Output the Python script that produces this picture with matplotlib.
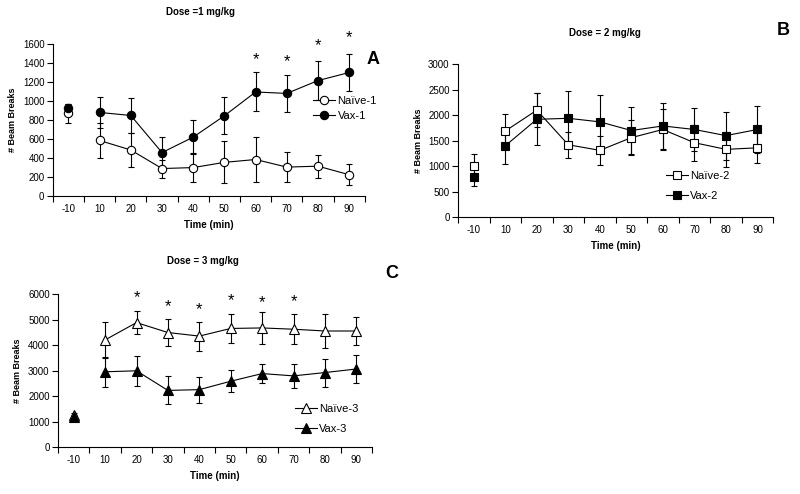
import numpy as np
import matplotlib
matplotlib.use("Agg")
import matplotlib.pyplot as plt

plt.rcParams['font.family'] = ['Liberation Sans', 'DejaVu Sans']

times = ['-10', '10', '20', '30', '40', '50', '60', '70', '80', '90']

# panel A, dose 1 mg/kg
naive1 = [870, 585, 485, 290, 300, 355, 385, 305, 315, 225]
naive1_err = [100, 185, 180, 95, 150, 220, 240, 160, 120, 112]
vax1 = [930, 880, 848, 458, 620, 845, 1095, 1080, 1215, 1300]
vax1_err = [35, 165, 180, 160, 180, 195, 205, 195, 205, 195]
stars1_x = [6, 7, 8, 9]
stars1_y = [1360, 1340, 1500, 1590]

# panel B, dose 2 mg/kg
naive2 = [1010, 1690, 2100, 1420, 1310, 1560, 1720, 1460, 1330, 1360]
naive2_err = [220, 330, 330, 255, 290, 340, 400, 350, 350, 300]
vax2 = [780, 1400, 1920, 1940, 1870, 1700, 1790, 1720, 1600, 1720]
vax2_err = [170, 350, 510, 530, 530, 460, 450, 430, 470, 460]

# panel C, dose 3 mg/kg
naive3 = [1250, 4200, 4880, 4490, 4350, 4650, 4670, 4620, 4550, 4550]
naive3_err = [100, 700, 450, 540, 570, 570, 640, 580, 650, 530]
vax3 = [1170, 2950, 2990, 2220, 2250, 2580, 2880, 2790, 2920, 3060]
vax3_err = [100, 600, 580, 550, 510, 430, 370, 460, 550, 550]
stars3_x = [2, 3, 4, 5, 6, 7]
stars3_y = [5550, 5200, 5080, 5430, 5380, 5410]

fig = plt.figure(figsize=(8, 4.94), dpi=100)


def panel(rect, naive, naive_err, vax, vax_err, marker, labels, ymax, ystep,
          leg_anchor, ms, spacing):
    ax = fig.add_axes(rect)
    x = np.arange(len(times))
    for vals, errs, face, lab in [(naive, naive_err, 'white', labels[0]),
                                  (vax, vax_err, 'black', labels[1])]:
        ax.errorbar(x, vals, yerr=errs, fmt='none', ecolor='black',
                    elinewidth=0.8, capsize=2.5, capthick=0.8, zorder=2)
        ax.plot(x[1:], vals[1:], color='black', lw=0.8, marker=marker,
                ms=ms, mfc=face, mec='black', mew=0.8, label=lab, zorder=3)
        ax.plot(x[:1], vals[:1], ls='none', marker=marker, ms=ms,
                mfc=face, mec='black', mew=0.8, zorder=3)
    ax.set_xlim(-0.5, len(times) - 0.5)
    ax.set_ylim(0, ymax)
    ax.set_xticks(x)
    ax.set_xticklabels(times)
    ax.set_xticks(np.arange(len(times) + 1) - 0.5, minor=True)
    ax.tick_params(axis='x', which='major', length=0, pad=6, labelsize=7)
    ax.tick_params(axis='x', which='minor', length=4, width=0.8,
                   direction='out')
    ax.set_yticks(np.arange(0, ymax + 1, ystep))
    ax.tick_params(axis='y', length=4, width=0.8, labelsize=7, pad=2)
    for s in ['top', 'right']:
        ax.spines[s].set_visible(False)
    for s in ['left', 'bottom']:
        ax.spines[s].set_linewidth(0.8)
    ax.set_ylabel('# Beam Breaks', fontsize=6.5, fontweight='bold',
                  labelpad=4)
    ax.set_xlabel('Time (min)', fontsize=7, fontweight='bold', labelpad=4)
    ax.legend(loc='upper left', bbox_to_anchor=leg_anchor, frameon=False,
              fontsize=8, handlelength=2.0, handletextpad=0.2,
              labelspacing=spacing, borderaxespad=0)
    return ax


axA = panel([0.066, 0.603, 0.39, 0.308], naive1, naive1_err, vax1, vax1_err,
            'o', ['Naïve-1', 'Vax-1'], 1600, 200, (0.82, 0.69), 6, 0.45)
for sx, sy in zip(stars1_x, stars1_y):
    axA.text(sx, sy, '*', ha='center', va='bottom', fontsize=12)

axB = panel([0.5725, 0.5607, 0.394, 0.309], naive2, naive2_err, vax2,
            vax2_err, 's', ['Naïve-2', 'Vax-2'], 3000, 500, (0.645, 0.33),
            5.5, 0.9)

axC = panel([0.0725, 0.0951, 0.3925, 0.3097], naive3, naive3_err, vax3,
            vax3_err, '^', ['Naïve-3', 'Vax-3'], 6000, 1000, (0.74, 0.31),
            6.5, 0.9)
for sx, sy in zip(stars3_x, stars3_y):
    axC.text(sx, sy, '*', ha='center', va='bottom', fontsize=12)

fig.text(0.25, 0.976, 'Dose =1 mg/kg', ha='center', va='center',
         fontsize=7, fontweight='bold')
fig.text(0.756, 0.933, 'Dose = 2 mg/kg', ha='center', va='center',
         fontsize=7, fontweight='bold')
fig.text(0.254, 0.472, 'Dose = 3 mg/kg', ha='center', va='center',
         fontsize=7, fontweight='bold')

fig.text(0.466, 0.879, 'A', ha='center', va='center', fontsize=13,
         fontweight='bold')
fig.text(0.979, 0.939, 'B', ha='center', va='center', fontsize=13,
         fontweight='bold')
fig.text(0.49, 0.447, 'C', ha='center', va='center', fontsize=13,
         fontweight='bold')

fig.savefig('out.png', dpi=100, facecolor='white')
